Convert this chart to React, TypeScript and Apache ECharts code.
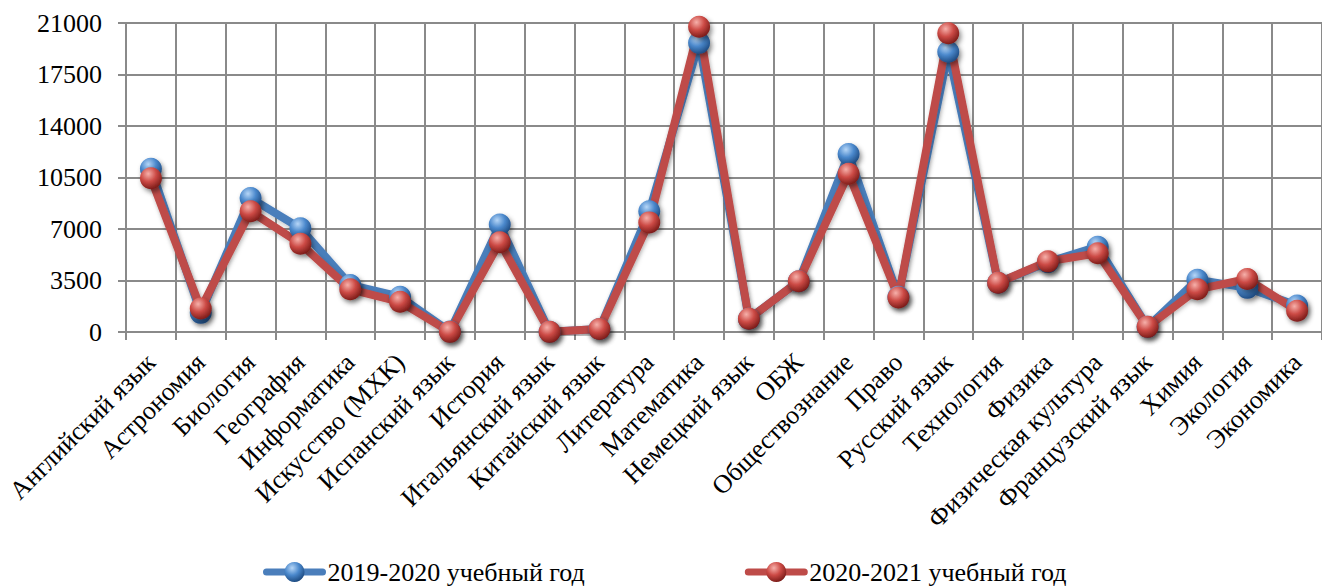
import React, { useEffect, useRef } from "react";
import * as echarts from "echarts";

const categories = [
  "Английский язык",
  "Астрономия",
  "Биология",
  "География",
  "Информатика",
  "Искусство (МХК)",
  "Испанский язык",
  "История",
  "Итальянский язык",
  "Китайский язык",
  "Литература",
  "Математика",
  "Немецкий язык",
  "ОБЖ",
  "Обществознание",
  "Право",
  "Русский язык",
  "Технология",
  "Физика",
  "Физическая культура",
  "Французский язык",
  "Химия",
  "Экология",
  "Экономика",
];

const seriesNames = ["2019-2020 учебный год", "2020-2021 учебный год"];

const values2019 = [
  11100, 1300, 9100, 7050, 3200, 2400, 30, 7300, 20, 200, 8200, 19650,
  900, 3450, 12100, 2400, 19050, 3350, 4750, 5800, 350, 3550, 3000, 1800,
];

const values2020 = [
  10450, 1600, 8200, 6000, 2900, 2050, 10, 6100, 10, 200, 7450, 20750,
  900, 3450, 10750, 2350, 20300, 3350, 4800, 5350, 350, 2900, 3600, 1450,
];

const yMin = 0;
const yMax = 21000;
const yStep = 3500;

const FONT = "'Liberation Serif', 'Times New Roman', serif";
const GRID_GRAY = "#8a8a8a";

function sphere(light: string, mid: string, dark: string) {
  return new echarts.graphic.RadialGradient(0.38, 0.3, 0.72, [
    { offset: 0, color: light },
    { offset: 0.5, color: mid },
    { offset: 1, color: dark },
  ]);
}

export default function App() {
  const ref = useRef<HTMLDivElement>(null);

  useEffect(() => {
    if (!ref.current) return;
    const chart = echarts.init(ref.current, undefined, { renderer: "svg" });

    const blueLine = "#4a7ebb";
    const redLine = "#be4b48";
    const blueBall = sphere("#b6d6f7", "#4a88cc", "#1d4a80");
    const redBall = sphere("#f6b0aa", "#cc4a45", "#7a1b18");

    const makeSeries = (name: string, data: number[], line: string, ball: any) => ({
      name,
      type: "line",
      data,
      symbol: "circle",
      symbolSize: 22,
      lineStyle: {
        color: line,
        width: 8,
        shadowColor: "rgba(0,0,0,0.25)",
        shadowBlur: 4,
        shadowOffsetX: 1,
        shadowOffsetY: 2,
      },
      itemStyle: {
        color: ball,
        borderWidth: 0,
        shadowColor: "rgba(0,0,0,0.45)",
        shadowBlur: 5,
        shadowOffsetX: 2,
        shadowOffsetY: 3,
      },
      emphasis: { disabled: true },
    });

    chart.setOption({
      animation: false,
      backgroundColor: "#ffffff",
      textStyle: { fontFamily: FONT },
      grid: { left: 126, top: 23, width: 1200, height: 309 },
      legend: {
        left: 258,
        top: 554,
        itemWidth: 56,
        itemHeight: 25,
        itemGap: 160,
        textStyle: { fontFamily: FONT, fontSize: 26, color: "#000" },
        lineStyle: { width: 7, cap: "round" },
        data: seriesNames,
      },
      xAxis: {
        type: "category",
        data: categories,
        boundaryGap: true,
        axisLine: { show: true, lineStyle: { color: GRID_GRAY, width: 2 } },
        axisTick: { show: true, length: 8, lineStyle: { color: GRID_GRAY, width: 2 } },
        splitLine: { show: true, lineStyle: { color: GRID_GRAY, width: 2 } },
        axisLabel: {
          interval: 0,
          rotate: 45,
          margin: 26,
          padding: [23, 0, 0, 0],
          fontFamily: FONT,
          fontSize: 26,
          color: "#000",
        },
      },
      yAxis: {
        type: "value",
        min: yMin,
        max: yMax,
        interval: yStep,
        axisLine: { show: true, lineStyle: { color: GRID_GRAY, width: 2 } },
        axisTick: { show: true, length: 8, lineStyle: { color: GRID_GRAY, width: 2 } },
        splitLine: { show: true, lineStyle: { color: GRID_GRAY, width: 2 } },
        axisLabel: {
          margin: 24,
          fontFamily: FONT,
          fontSize: 26,
          color: "#000",
          formatter: (v: number) => String(v),
        },
      },
      series: [
        makeSeries(seriesNames[0], values2019, blueLine, blueBall),
        makeSeries(seriesNames[1], values2020, redLine, redBall),
      ],
    });

    return () => chart.dispose();
  }, []);

  return (
    <div
      ref={ref}
      style={{ position: "absolute", left: 0, top: 0, width: 1322, height: 586 }}
    />
  );
}
